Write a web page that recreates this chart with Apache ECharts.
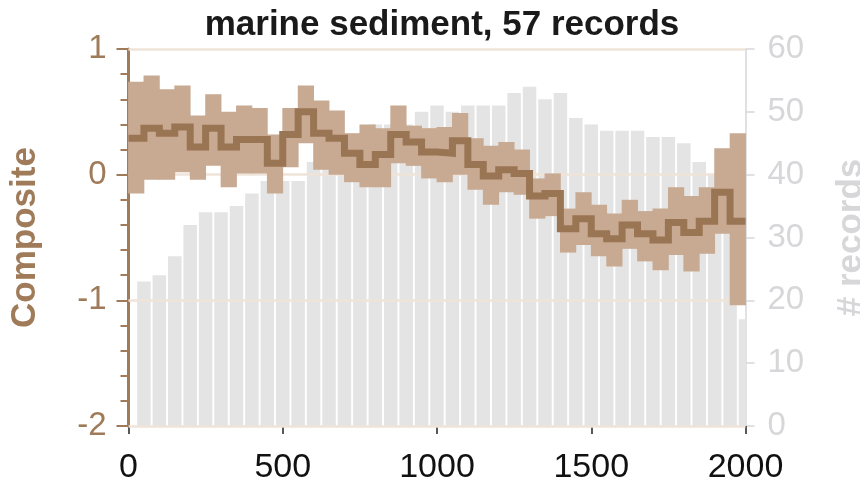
<!DOCTYPE html>
<html><head><meta charset="utf-8">
<script src="https://cdn.jsdelivr.net/npm/echarts@6/dist/echarts.min.js"></script>
<style>html,body{margin:0;padding:0;background:#fff}#c{width:860px;height:492px}</style>
</head><body><div id="c"></div>
<script>
// 50-year bins (start years)
var binStart = [0,50,100,150,200,250,300,350,400,450,500,550,600,650,700,750,800,850,900,950,
  1000,1050,1100,1150,1200,1250,1300,1350,1400,1450,1500,1550,1600,1650,1700,1750,1800,1850,1900,1950];
var binEndYear = 2000;
// composite (median) per bin
var composite = [0.29,0.37,0.33,0.38,0.22,0.37,0.22,0.28,0.28,0.09,0.32,0.50,0.33,0.29,0.17,0.08,0.16,0.32,0.26,0.18,
  0.17,0.27,0.08,-0.01,0.04,0.01,-0.17,-0.15,-0.43,-0.35,-0.47,-0.51,-0.40,-0.47,-0.52,-0.38,-0.46,-0.37,-0.14,-0.37];
// uncertainty band
var upper = [0.74,0.79,0.68,0.71,0.47,0.64,0.50,0.55,0.53,0.32,0.53,0.71,0.59,0.51,0.33,0.40,0.37,0.55,0.39,0.37,
  0.38,0.49,0.29,0.23,0.26,0.20,-0.03,0.01,-0.27,-0.14,-0.24,-0.31,-0.20,-0.29,-0.27,-0.10,-0.17,-0.10,0.21,0.33];
var lower = [-0.15,-0.04,-0.04,0.02,-0.04,0.07,-0.10,0.01,0.01,-0.15,0.06,0.25,0.04,0.00,-0.06,-0.10,-0.10,0.09,0.07,-0.03,
  -0.06,0.00,-0.12,-0.24,-0.14,-0.16,-0.35,-0.33,-0.62,-0.56,-0.65,-0.73,-0.59,-0.69,-0.76,-0.64,-0.77,-0.63,-0.47,-1.04];
// number of records
var recordYears = [50,100,150,200,250,300,350,400,450,500,550,600,650,700,750,800,850,900,950,1000,
  1050,1100,1150,1200,1250,1300,1350,1400,1450,1500,1550,1600,1650,1700,1750,1800,1850,1900,1950,2000];
var records = [23,24,27,32,34,34,35,37,39,39,39,42,43,45,46,48,48,48,50,51,
  50,51,51,51,53,54,52,53,49,48,47,47,47,46,46,45,42,40,36,17];
var xTicks = [0,500,1000,1500,2000];
var leftTicks = [-2,-1,0,1];
var rightTicks = [0,10,20,30,40,50,60];
var titleText = 'marine sediment, 57 records';

function stepData(vals){
  var d = binStart.map(function(x,i){return [x, vals[i]];});
  d.push([binEndYear, vals[vals.length-1]]);
  return d;
}
var bandData = binStart.map(function(x,i){
  var x1 = i + 1 < binStart.length ? binStart[i+1] : binEndYear;
  return [x, x1, lower[i], upper[i]];
});
var barData = recordYears.map(function(x,i){return [x, records[i]];});

var FONT = 'Liberation Sans, Arial, sans-serif';
var brown = '#9a7553', band = '#c8a992', axisBrown = '#9f7b59', grey = '#e4e4e4', rightGrey = '#d7d7da', beige = '#efe4d9';
var BAR_W = 13.5;
var chart = echarts.init(document.getElementById('c'), null, {renderer:'canvas'});
chart.setOption({
  animation: false,
  title: {text: titleText, left: 437, top: 3, textAlign: 'center',
    textStyle: {fontFamily: FONT, fontWeight: 'bold', fontSize: 35, color: '#1a1a1a'}},
  grid: {left: 128.5, right: 114.5, top: 49, bottom: 66, containLabel: false, outerBoundsMode: 'none'},
  xAxis: {type: 'value', min: 0, max: 2000, interval: 500,
    axisLine: {show: false, onZero: false},
    axisTick: {show: true, length: 8, lineStyle: {color: '#222', width: 1.5}},
    axisLabel: {fontSize: 34, color: '#111', margin: 25, fontFamily: FONT,
      formatter: function(v){return xTicks.indexOf(v) >= 0 ? String(v) : '';}},
    splitLine: {show: false}},
  yAxis: [
    {type: 'value', min: -2, max: 1, interval: 1, position: 'left',
     name: 'Composite', nameLocation: 'middle', nameGap: 86, nameRotate: 90,
     nameTextStyle: {fontSize: 35, fontWeight: 'bold', color: axisBrown, fontFamily: FONT},
     axisLine: {show: true, lineStyle: {color: axisBrown, width: 3}},
     axisTick: {show: true, length: 12, lineStyle: {color: axisBrown, width: 2}},
     minorTick: {show: true, splitNumber: 5, length: 8, lineStyle: {color: axisBrown, width: 2}},
     axisLabel: {fontSize: 33, color: axisBrown, margin: 22, fontFamily: FONT,
       formatter: function(v){return leftTicks.indexOf(v) >= 0 ? String(v) : '';}},
     splitLine: {show: false}},
    {type: 'value', min: 0, max: 60, interval: 10, position: 'right',
     name: '# records', nameLocation: 'middle', nameGap: 88, nameRotate: 90,
     nameTextStyle: {fontSize: 35, fontWeight: 'bold', color: rightGrey, fontFamily: FONT},
     axisLine: {show: true, lineStyle: {color: rightGrey, width: 1.5}},
     axisTick: {show: true, length: 9, lineStyle: {color: rightGrey, width: 1.5}},
     axisLabel: {fontSize: 33, color: rightGrey, margin: 22, fontFamily: FONT,
       formatter: function(v){return rightTicks.indexOf(v) >= 0 ? String(v) : '';}},
     splitLine: {show: false}}
  ],
  series: [
    {type: 'custom', yAxisIndex: 1, z: 1, clip: true, silent: true,
     encode: {x: 0, y: 1},
     data: barData,
     renderItem: function(params, api){
       var top = api.coord([api.value(0), api.value(1)]);
       var base = api.coord([api.value(0), 0]);
       return {type: 'rect', shape: {x: top[0] - BAR_W / 2, y: top[1], width: BAR_W, height: base[1] - top[1]},
         style: {fill: grey}};
     }},
    {type: 'line', yAxisIndex: 0, z: 2, data: [], silent: true,
     markLine: {silent: true, symbol: 'none', z: 2, label: {show: false}, animation: false,
       lineStyle: {color: beige, width: 2.5, type: 'solid'},
       data: leftTicks.map(function(v){return {yAxis: v};})}},
    {type: 'custom', yAxisIndex: 0, z: 10, clip: true, silent: true,
     encode: {x: [0, 1], y: [2, 3]},
     data: bandData,
     renderItem: function(params, api){
       var p0 = api.coord([api.value(0), api.value(3)]);
       var p1 = api.coord([api.value(1), api.value(2)]);
       return {type: 'rect', shape: {x: p0[0] - 0.4, y: p0[1], width: p1[0] - p0[0] + 0.8, height: p1[1] - p0[1]},
         style: {fill: band}};
     }},
    {type: 'line', yAxisIndex: 0, z: 11, step: 'end', symbol: 'none',
     lineStyle: {color: brown, width: 7, join: 'miter', cap: 'butt'}, data: stepData(composite), silent: true}
  ]
});
</script></body></html>
